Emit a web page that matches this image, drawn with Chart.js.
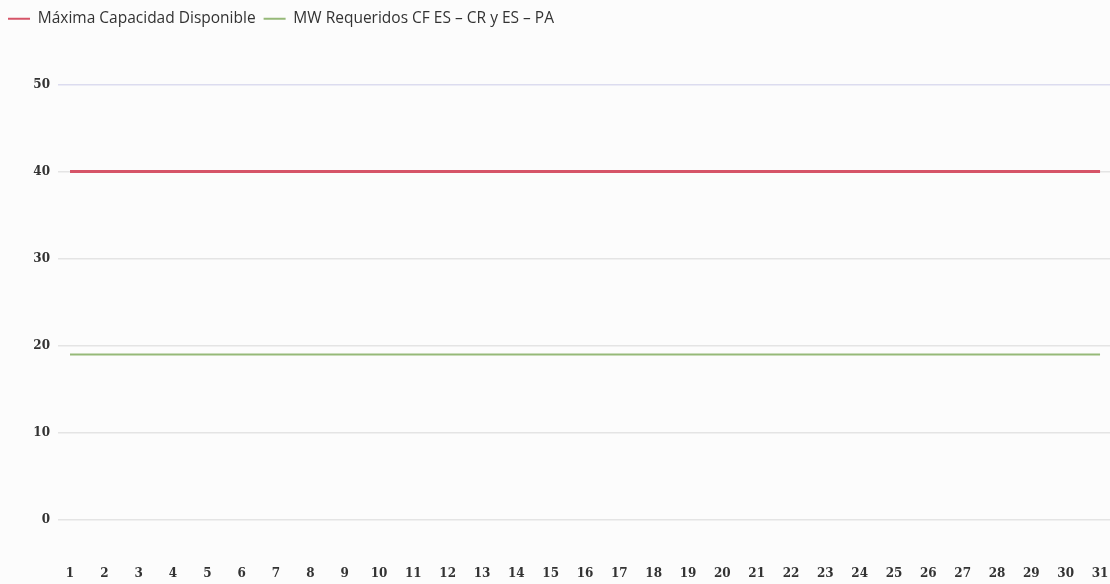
<!DOCTYPE html>
<html><head><meta charset="utf-8">
<script src="https://cdn.jsdelivr.net/npm/chart.js@4"></script>
<style>html,body{margin:0;padding:0;background:#fcfcfc;}#wrap{width:1110px;height:584px;position:relative;}</style>
</head><body><div id="wrap"><canvas id="c"></canvas></div>
<script>
const days = Array.from({length:31},(_,i)=>i+1);
const maxCapacity = [40,40,40,40,40,40,40,40,40,40,40,40,40,40,40,40,40,40,40,40,40,40,40,40,40,40,40,40,40,40,40];
const mwRequired = [19,19,19,19,19,19,19,19,19,19,19,19,19,19,19,19,19,19,19,19,19,19,19,19,19,19,19,19,19,19,19];
const yTicks = [0,10,20,30,40,50];
const seriesNames = ['Máxima Capacidad Disponible','MW Requeridos CF ES – CR y ES – PA'];

const toPts = arr => arr.map((v,i)=>({x:days[i], y:v}));
const defaultGen = Chart.defaults.plugins.legend.labels.generateLabels;
const legendSpace = {id:'legendSpace', afterInit(chart){
  const lg = chart.legend; if(!lg) return;
  const orig = lg.fit;
  lg.fit = function(){ orig.call(this); this.height += 48; };
}};
new Chart(document.getElementById('c'), {
  type:'line',
  data:{datasets:[
    {label:seriesNames[0], data:toPts(maxCapacity), borderColor:'rgb(214,84,104)', backgroundColor:'rgb(214,84,104)', borderWidth:3, pointRadius:0},
    {label:seriesNames[1], data:toPts(mwRequired), borderColor:'rgb(150,185,120)', backgroundColor:'rgb(150,185,120)', borderWidth:2, pointRadius:0}
  ]},
  plugins:[legendSpace],
  options:{
    responsive:true, maintainAspectRatio:false, animation:false,
    layout:{padding:{top:3,left:0,right:0,bottom:0}},
    plugins:{
      tooltip:{enabled:false},
      legend:{position:'top', align:'start',
        labels:{boxWidth:22, boxHeight:2, padding:8, color:'#333', font:{family:'Open Sans', size:15.5},
          generateLabels:c=>defaultGen(c).map(l=>Object.assign(l,{lineWidth:0}))}}
    },
    scales:{
      x:{type:'linear', min:0.65, max:31.29,
        afterBuildTicks:s=>{s.ticks=days.map(v=>({value:v}));},
        afterFit:s=>{s.height=64; s.paddingRight=0; s.paddingLeft=0;},
        grid:{display:true, drawOnChartArea:false, drawTicks:true, tickLength:47, color:'rgba(0,0,0,0)'}, border:{display:false},
        ticks:{color:'#333', font:{family:'DejaVu Serif', size:12, weight:'bold'}, padding:0, maxRotation:0, autoSkip:false}
      },
      y:{min:0, max:50,
        afterBuildTicks:s=>{s.ticks=yTicks.map(v=>({value:v}));},
        afterFit:s=>{s.width=58;},
        border:{display:false},
        grid:{color:c=>c.tick && c.tick.value===50 ? '#dcdcef' : '#e4e4e4', lineWidth:1.5, drawTicks:false},
        ticks:{color:'#333', font:{family:'DejaVu Serif', size:12, weight:'bold'}, padding:8}
      }
    }
  }
});
</script></body></html>
